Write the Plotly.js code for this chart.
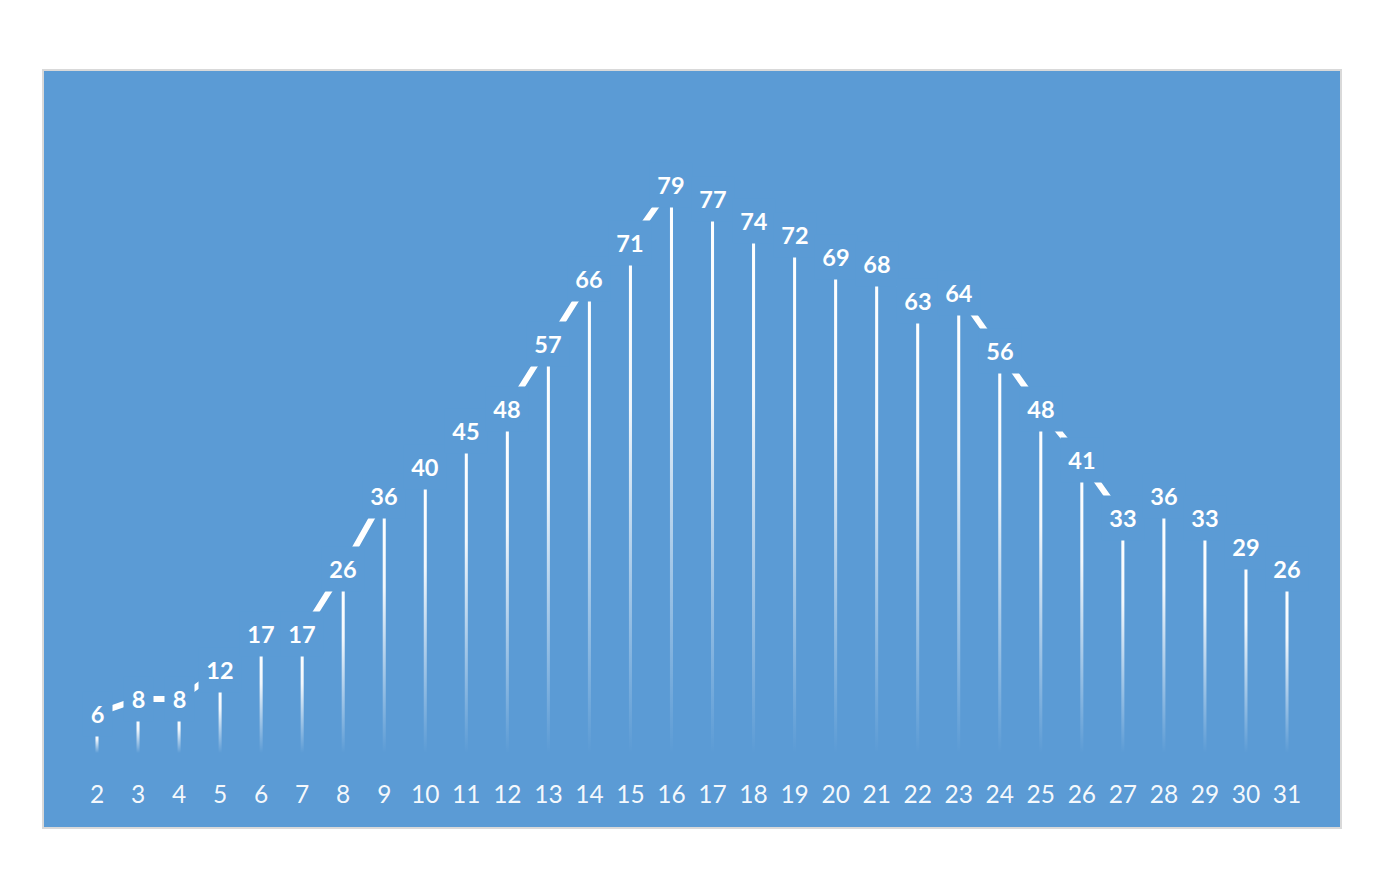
<!DOCTYPE html>
<html>
<head>
<meta charset="utf-8">
<script src="https://cdn.plot.ly/plotly-3.0.1.min.js"></script>
<style>html,body{margin:0;padding:0;background:#fff;}#chart{width:1374px;height:873px;}</style>
</head>
<body>
<div id="chart"></div>
<script>
// ---- data ----
const categories = [2,3,4,5,6,7,8,9,10,11,12,13,14,15,16,17,18,19,20,21,22,23,24,25,26,27,28,29,30,31];
const tickLabels = categories.map(String);
const values = [6,8,8,12,17,17,26,36,40,45,48,57,66,71,79,77,74,72,69,68,63,64,56,48,41,33,36,33,29,26];

// ---- style constants ----
const BLUE = '#5B9BD5';
const PX_PER_UNIT = 707 / 97.6;
const LABEL_SHIFT_PX = 20;
const labelOffset = LABEL_SHIFT_PX / PX_PER_UNIT;
const barHalf = 0.037;
const barBase = 24 / PX_PER_UNIT;

const traces = [];
// gradient bars (one filled polygon per bar, via the axes)
categories.forEach((c, i) => {
  const v = values[i];
  traces.push({
    type: 'scatter', mode: 'none', hoverinfo: 'skip', showlegend: false,
    x: [c - barHalf, c + barHalf, c + barHalf, c - barHalf, c - barHalf],
    y: [barBase, barBase, v, v, barBase],
    fill: 'toself',
    fillcolor: 'rgba(255,255,255,0.8)',
    fillgradient: {
      type: 'vertical',
      colorscale: [
        [0, 'rgba(255,255,255,0)'],
        [0.35, 'rgba(255,255,255,0.45)'],
        [0.7, 'rgba(255,255,255,0.92)'],
        [1, 'rgba(255,255,255,1)']
      ]
    },
    line: {width: 0}
  });
});
// connecting line through label centres
traces.push({
  type: 'scatter', mode: 'lines', hoverinfo: 'skip', showlegend: false,
  x: categories,
  y: values.map(v => v + labelOffset),
  line: {color: '#FFFFFF', width: 6}
});

const annotations = categories.map((c, i) => ({
  x: c, y: values[i], xref: 'x', yref: 'y',
  text: '<b>' + values[i] + '</b>',
  showarrow: false,
  yshift: LABEL_SHIFT_PX,
  xanchor: 'center', yanchor: 'middle',
  width: String(values[i]).length > 1 ? 42 : 29,
  height: 44,
  bgcolor: BLUE,
  borderpad: 0,
  font: {family: 'Lato, "Open Sans", sans-serif', size: 23.5, color: '#FFFFFF'}
}));

const layout = {
  width: 1374, height: 873,
  margin: {l: 43, r: 33, t: 70, b: 96, pad: 0},
  paper_bgcolor: '#FFFFFF',
  plot_bgcolor: BLUE,
  showlegend: false,
  xaxis: {
    range: [0.684, 32.316],
    tickmode: 'array', tickvals: categories, ticktext: tickLabels,
    showgrid: false, zeroline: false, showline: false, ticks: '',
    tickfont: {family: 'Lato, "Open Sans", sans-serif', size: 24.5, color: 'rgba(255,255,255,0.95)'},
    fixedrange: true
  },
  yaxis: {
    range: [0, 97.6],
    showgrid: false, zeroline: false, showline: false, showticklabels: false, ticks: '',
    fixedrange: true
  },
  shapes: [{
    type: 'rect', xref: 'paper', yref: 'paper', layer: 'below',
    x0: 0, x1: 1, y0: -51 / 707, y1: 1,
    fillcolor: BLUE, line: {color: '#D9D9D9', width: 2}
  }],
  annotations: annotations
};

Plotly.newPlot('chart', traces, layout, {displayModeBar: false, staticPlot: true});
</script>
</body>
</html>
